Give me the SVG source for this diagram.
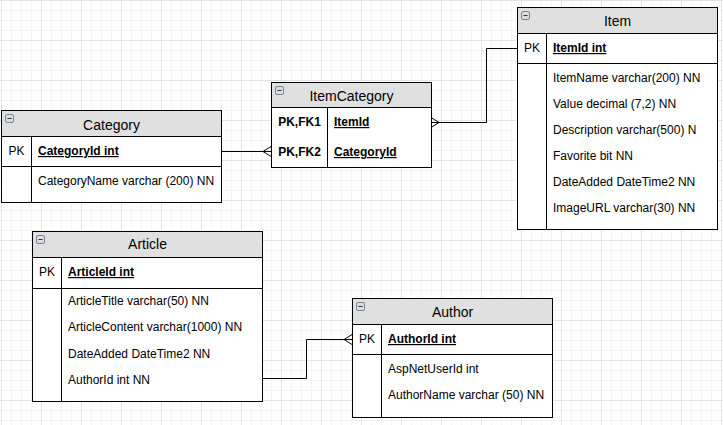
<svg xmlns="http://www.w3.org/2000/svg" width="723" height="425" viewBox="0 0 723 425">
<style>
text{font-family:"Liberation Sans",Arial,sans-serif;fill:#000}
.t{font-size:14px;text-anchor:middle}
.f{font-size:12px}
.pk{font-size:12px;text-anchor:middle}
.b{font-weight:bold}
.u{text-decoration:underline;font-weight:bold}
.box{fill:#fff;stroke:#000;stroke-width:1}
.hd{fill:#e0e0e0;stroke:#000;stroke-width:1}
.ln{stroke:#000;stroke-width:1;fill:none}
.ic{fill:#d8dde3;stroke:#7a8694;stroke-width:1}
</style>
<defs>
<pattern id="minor" x="1" y="0" width="10" height="10" patternUnits="userSpaceOnUse">
<path d="M0.5 0V10M0 0.5H10" stroke="#f4f4f4" stroke-width="1" fill="none"/>
</pattern>
<pattern id="major" x="1" y="0" width="40" height="40" patternUnits="userSpaceOnUse">
<path d="M0.5 0V40M0 0.5H40" stroke="#e4e4e4" stroke-width="1" fill="none"/>
</pattern>
<g id="icon">
<rect class="ic" x="0.5" y="0.5" width="8" height="8" rx="1.5"/>
<path d="M2.5 4.5H6.5" stroke="#333" stroke-width="1"/>
</g>
</defs>
<rect width="723" height="425" fill="#fff"/>
<rect width="723" height="425" fill="url(#minor)"/>
<rect width="723" height="425" fill="url(#major)"/>

<g id="connectors">
<path class="ln" d="M221 151.5H271M263 151.5L271 146.5M263 151.5L271 156.5"/>
<path class="ln" d="M517 48.5H486.5V122.5H431M439 122.5L431 117.5M439 122.5L431 127.5"/>
<path class="ln" d="M262 378.5H306.5V339.5H352M344 339.5L352 334.5M344 339.5L352 344.5"/>
</g>

<g id="category">
<rect class="box" x="1.5" y="110.5" width="220" height="92"/>
<rect class="hd" x="1.5" y="110.5" width="220" height="26"/>
<path class="ln" d="M1.5 166.5H221.5M31.5 136.5V202.5"/>
<use href="#icon" x="5" y="114"/>
<text class="t" x="111.5" y="130">Category</text>
<text class="pk" x="16.5" y="155">PK</text>
<text class="f u" x="38" y="155">CategoryId int</text>
<text class="f" x="38" y="185">CategoryName varchar (200) NN</text>
</g>

<g id="itemcategory">
<rect class="box" x="271.5" y="82.5" width="160" height="85"/>
<rect class="hd" x="271.5" y="82.5" width="160" height="25"/>
<path class="ln" d="M327.5 107.5V167.5"/>
<use href="#icon" x="275" y="86"/>
<text class="t" x="351.5" y="101">ItemCategory</text>
<text class="pk b" x="299.5" y="126">PK,FK1</text>
<text class="pk b" x="299.5" y="156">PK,FK2</text>
<text class="f u" x="334" y="126">ItemId</text>
<text class="f u" x="334" y="156">CategoryId</text>
</g>

<g id="item">
<rect class="box" x="517.5" y="7.5" width="200" height="222"/>
<rect class="hd" x="517.5" y="7.5" width="200" height="26"/>
<path class="ln" d="M517.5 63.5H717.5M546.5 33.5V229.5"/>
<use href="#icon" x="521" y="11"/>
<text class="t" x="617.5" y="26">Item</text>
<text class="pk" x="532" y="52">PK</text>
<text class="f u" x="553" y="52">ItemId int</text>
<text class="f" x="553" y="82">ItemName varchar(200) NN</text>
<text class="f" x="553" y="108">Value decimal (7,2) NN</text>
<text class="f" x="553" y="134">Description varchar(500) N</text>
<text class="f" x="553" y="160">Favorite bit NN</text>
<text class="f" x="553" y="186">DateAdded DateTime2 NN</text>
<text class="f" x="553" y="212">ImageURL varchar(30) NN</text>
</g>

<g id="article">
<rect class="box" x="32.5" y="231.5" width="230" height="170"/>
<rect class="hd" x="32.5" y="231.5" width="230" height="26"/>
<path class="ln" d="M32.5 288.5H262.5M61.5 257.5V401.5"/>
<use href="#icon" x="36" y="235"/>
<text class="t" x="147.5" y="249">Article</text>
<text class="pk" x="47" y="276">PK</text>
<text class="f u" x="68" y="276">ArticleId int</text>
<text class="f" x="68" y="305">ArticleTitle varchar(50) NN</text>
<text class="f" x="68" y="331">ArticleContent varchar(1000) NN</text>
<text class="f" x="68" y="358">DateAdded DateTime2 NN</text>
<text class="f" x="68" y="384">AuthorId int NN</text>
</g>

<g id="author">
<rect class="box" x="352.5" y="298.5" width="200" height="119"/>
<rect class="hd" x="352.5" y="298.5" width="200" height="26"/>
<path class="ln" d="M352.5 354.5H552.5M381.5 324.5V417.5"/>
<use href="#icon" x="356" y="302"/>
<text class="t" x="452.5" y="317">Author</text>
<text class="pk" x="367" y="343">PK</text>
<text class="f u" x="388" y="343">AuthorId int</text>
<text class="f" x="388" y="373">AspNetUserId int</text>
<text class="f" x="388" y="399">AuthorName varchar (50) NN</text>
</g>
</svg>
